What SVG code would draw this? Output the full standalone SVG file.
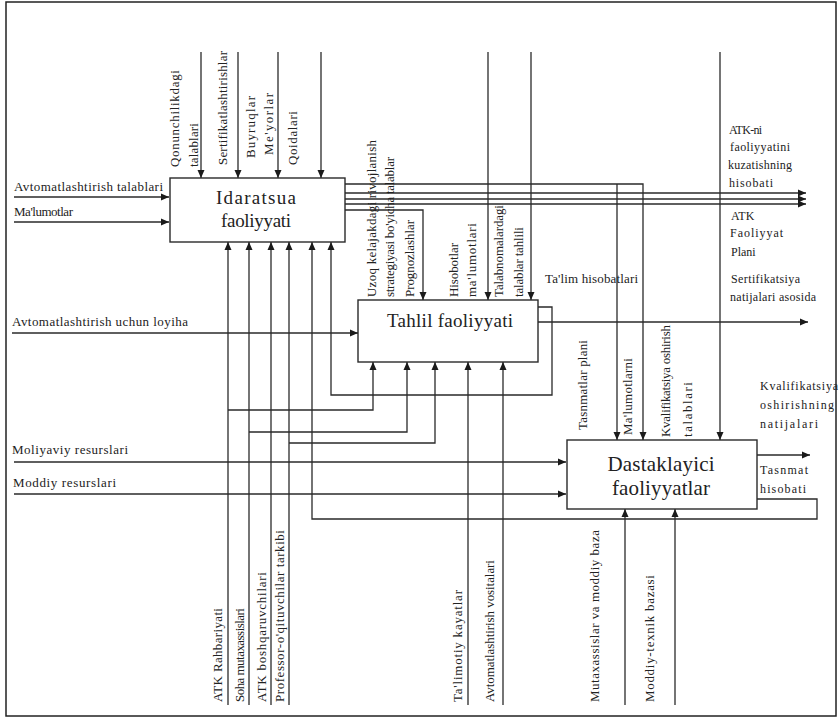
<svg xmlns="http://www.w3.org/2000/svg" width="840" height="718" viewBox="0 0 840 718">
<style>
.ln{fill:none;stroke:#2a2a2a;stroke-width:1.3}
.bx{fill:#fff;stroke:#2a2a2a;stroke-width:1.4}
.t{font-family:"Liberation Serif","Times New Roman",serif;font-size:13px;fill:#222}
.r{font-family:"Liberation Serif","Times New Roman",serif;font-size:12px;fill:#222}
.bt{font-family:"Liberation Serif","Times New Roman",serif;font-size:19px;fill:#222;text-anchor:middle}
.bt2{font-family:"Liberation Serif","Times New Roman",serif;font-size:21px;fill:#222;text-anchor:middle}
</style>
<defs>
<marker id="ar" markerWidth="9" markerHeight="9" refX="8" refY="4" orient="auto" markerUnits="userSpaceOnUse">
<path d="M0,0.5 L8,4 L0,7.5 Z" fill="#1a1a1a"/>
</marker>
</defs>
<rect x="0" y="0" width="840" height="718" fill="#fff"/>
<rect x="6" y="2" width="830" height="714" fill="none" stroke="#222" stroke-width="1.5"/>
<g id="connectors">
<path class="ln" d="M14,197 H169" marker-end="url(#ar)"/>
<path class="ln" d="M14,222 H169" marker-end="url(#ar)"/>
<path class="ln" d="M12,333 H358" marker-end="url(#ar)"/>
<path class="ln" d="M14,462 H566" marker-end="url(#ar)"/>
<path class="ln" d="M14,494 H566" marker-end="url(#ar)"/>
<path class="ln" d="M201,52 V178" marker-end="url(#ar)"/>
<path class="ln" d="M238,52 V178" marker-end="url(#ar)"/>
<path class="ln" d="M278,52 V178" marker-end="url(#ar)"/>
<path class="ln" d="M321,52 V178" marker-end="url(#ar)"/>
<path class="ln" d="M345,184 H643 V440" marker-end="url(#ar)"/>
<path class="ln" d="M617,184 V440" marker-end="url(#ar)"/>
<path class="ln" d="M345,193 H806" marker-end="url(#ar)"/>
<path class="ln" d="M345,199 H806" marker-end="url(#ar)"/>
<path class="ln" d="M345,204 H806" marker-end="url(#ar)"/>
<path class="ln" d="M345,210 H423 V300" marker-end="url(#ar)"/>
<path class="ln" d="M488,52 V300" marker-end="url(#ar)"/>
<path class="ln" d="M531,52 V300" marker-end="url(#ar)"/>
<path class="ln" d="M720,52 V440" marker-end="url(#ar)"/>
<path class="ln" d="M538,322 H808" marker-end="url(#ar)"/>
<path class="ln" d="M538,307 H552 V395 H331 V242" marker-end="url(#ar)"/>
<path class="ln" d="M757,455 H810" marker-end="url(#ar)"/>
<path class="ln" d="M757,499 H817 V519 H312 V242" marker-end="url(#ar)"/>
<path class="ln" d="M228,705 V242" marker-end="url(#ar)"/>
<path class="ln" d="M249,705 V242" marker-end="url(#ar)"/>
<path class="ln" d="M271,705 V242" marker-end="url(#ar)"/>
<path class="ln" d="M289,705 V242" marker-end="url(#ar)"/>
<path class="ln" d="M228,410 H373 V362" marker-end="url(#ar)"/>
<path class="ln" d="M249,432 H407 V362" marker-end="url(#ar)"/>
<path class="ln" d="M289,443 H435 V362" marker-end="url(#ar)"/>
<path class="ln" d="M468,705 V362" marker-end="url(#ar)"/>
<path class="ln" d="M503,705 V362" marker-end="url(#ar)"/>
<path class="ln" d="M625,705 V509" marker-end="url(#ar)"/>
<path class="ln" d="M675,705 V509" marker-end="url(#ar)"/>
</g>
<g id="node-idaratsua">
<rect class="bx" x="170" y="178" width="175" height="64"/>
<text class="bt" x="256" y="204" textLength="80">Idaratsua</text>
<text class="bt" x="256" y="227" textLength="70">faoliyyati</text>
</g>
<g id="node-tahlil">
<rect class="bx" x="358" y="300" width="180" height="62"/>
<text class="bt" x="450" y="327" textLength="126">Tahlil faoliyyati</text>
</g>
<g id="node-dastaklayici">
<rect class="bx" x="567" y="440" width="190" height="69"/>
<text class="bt2" x="661" y="471" textLength="107">Dastaklayici</text>
<text class="bt2" x="661" y="495" textLength="98">faoliyyatlar</text>
</g>
<g id="labels">
<text class="t" x="14" y="191" textLength="149">Avtomatlashtirish talablari</text>
<text class="t" x="14" y="216" textLength="59">Ma'lumotlar</text>
<text class="t" x="12" y="326" textLength="176">Avtomatlashtirish uchun loyiha</text>
<text class="t" x="12" y="454" textLength="116">Moliyaviy resurslari</text>
<text class="t" x="13" y="487" textLength="103">Moddiy resurslari</text>
<text class="t" transform="translate(179,167) rotate(-90)" textLength="97">Qonunchilikdagi</text>
<text class="t" transform="translate(198,167) rotate(-90)" textLength="44">talablari</text>
<text class="t" transform="translate(227,165) rotate(-90)" textLength="114">Sertifikatlashtirishlar</text>
<text class="t" transform="translate(255,158) rotate(-90)" textLength="62">Buyruqlar</text>
<text class="t" transform="translate(273,155) rotate(-90)" textLength="62">Me'yorlar</text>
<text class="t" transform="translate(297,165) rotate(-90)" textLength="54">Qoidalari</text>
<text class="t" transform="translate(376,297) rotate(-90)" textLength="157">Uzoq kelajakdagi rivojlanish</text>
<text class="t" transform="translate(394,297) rotate(-90)" textLength="140">strategiyasi bo'yicha talablar</text>
<text class="t" transform="translate(414,297) rotate(-90)" textLength="77">Prognozlashlar</text>
<text class="t" transform="translate(458,297) rotate(-90)" textLength="54">Hisobotlar</text>
<text class="t" transform="translate(476,297) rotate(-90)" textLength="74">ma'lumotlari</text>
<text class="t" transform="translate(503,297) rotate(-90)" textLength="92">Talabnomalardagi</text>
<text class="t" transform="translate(523,297) rotate(-90)" textLength="70">talablar tahlili</text>
<text class="r" x="729" y="134" textLength="33">ATK-ni</text>
<text class="r" x="730" y="151" textLength="60">faoliyyatini</text>
<text class="r" x="728" y="169" textLength="64">kuzatishning</text>
<text class="r" x="729" y="187" textLength="44">hisobati</text>
<text class="r" x="731" y="220">ATK</text>
<text class="r" x="730" y="237" textLength="53">Faoliyyat</text>
<text class="r" x="731" y="256">Plani</text>
<text class="r" x="731" y="283" textLength="69">Sertifikatsiya</text>
<text class="r" x="730" y="301" textLength="86">natijalari asosida</text>
<text class="t" x="545" y="283" textLength="93">Ta'lim hisobatlari</text>
<text class="t" transform="translate(587,430) rotate(-90)" textLength="90">Tasnmatlar plani</text>
<text class="t" transform="translate(632,435) rotate(-90)" textLength="77">Ma'lumotlarni</text>
<text class="t" transform="translate(670,437) rotate(-90)" textLength="112">Kvalifikatsiya oshirish</text>
<text class="t" transform="translate(692,437) rotate(-90)" textLength="55">talablari</text>
<text class="r" x="760" y="390" textLength="78">Kvalifikatsiya</text>
<text class="r" x="760" y="409" textLength="74">oshirishning</text>
<text class="r" x="760" y="428" textLength="58">natijalari</text>
<text class="r" x="760" y="474" textLength="48">Tasnmat</text>
<text class="r" x="760" y="493" textLength="46">hisobati</text>
<text class="t" transform="translate(222,702) rotate(-90)" textLength="94">ATK Rahbariyati</text>
<text class="t" transform="translate(244,702) rotate(-90)" textLength="94">Soha mutaxassislari</text>
<text class="t" transform="translate(266,702) rotate(-90)" textLength="130">ATK boshqaruvchilari</text>
<text class="t" transform="translate(284,702) rotate(-90)" textLength="172">Professor-o'qituvchilar tarkibi</text>
<text class="t" transform="translate(462,702) rotate(-90)" textLength="112">Ta'limotiy kayatlar</text>
<text class="t" transform="translate(494,702) rotate(-90)" textLength="142">Avtomatlashtirish vositalari</text>
<text class="t" transform="translate(599,702) rotate(-90)" textLength="172">Mutaxassislar va moddiy baza</text>
<text class="t" transform="translate(654,702) rotate(-90)" textLength="127">Moddiy-texnik bazasi</text>
</g>
</svg>
